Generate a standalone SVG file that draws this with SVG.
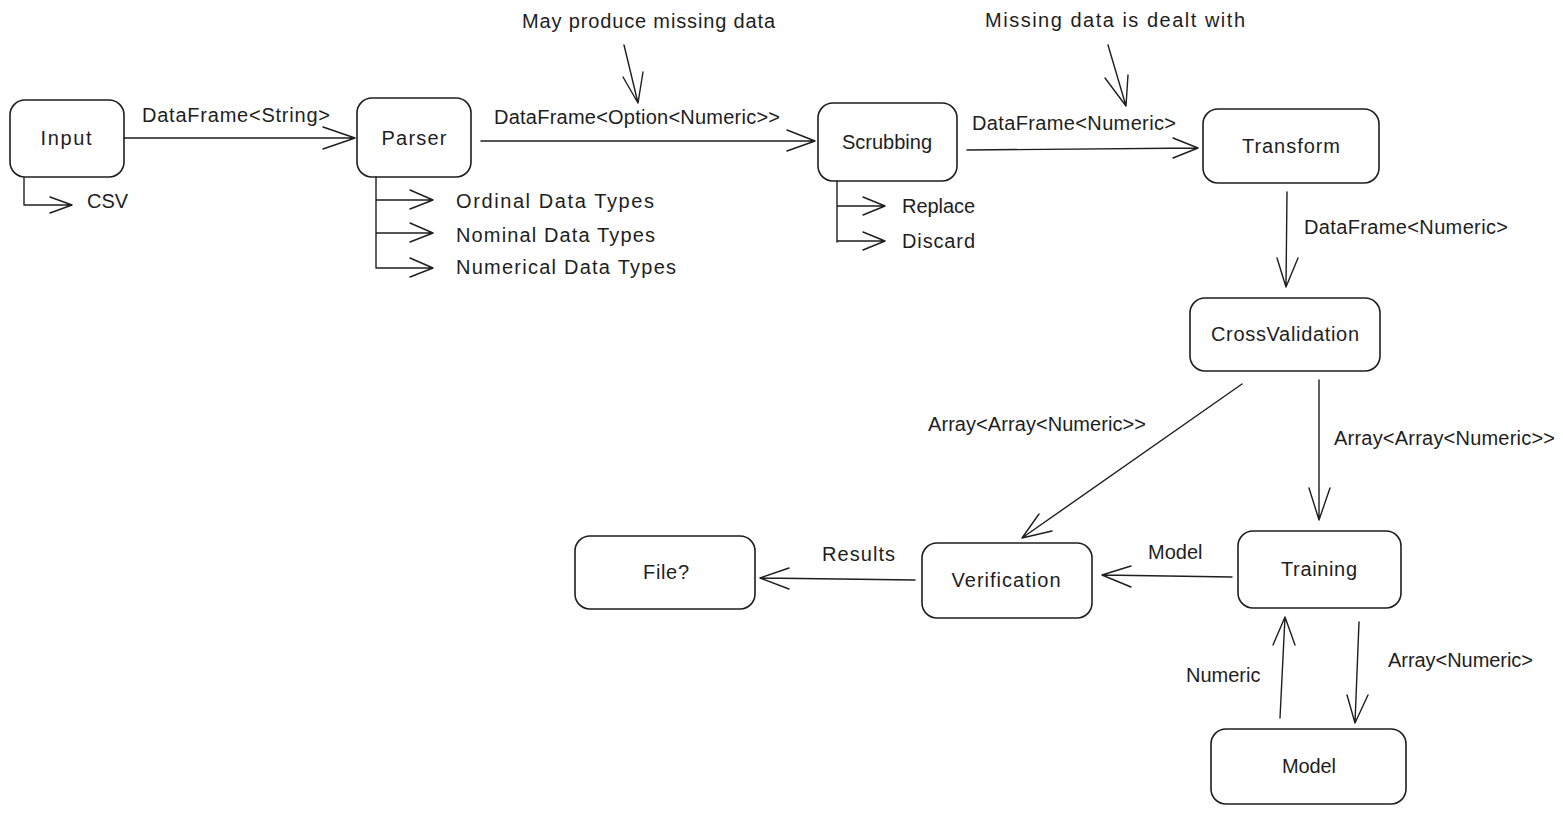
<svg xmlns="http://www.w3.org/2000/svg" width="1563" height="814" viewBox="0 0 1563 814">
  <style>
    .box { fill: #ffffff; stroke: #1e1e1e; stroke-width: 1.6; }
    .lbl { font-family: "Liberation Sans", Arial, sans-serif; font-size: 20px; fill: #1e1e1e; }
    .mid { text-anchor: middle; }
    .wire { fill: none; stroke: #1e1e1e; stroke-width: 1.4; stroke-linecap: round; stroke-linejoin: round; }
  </style>
  <rect width="1563" height="814" fill="#ffffff"/>

  <!-- nodes -->
  <g id="node-input">
    <rect class="box" x="10" y="100" width="114" height="77" rx="15"/>
    <text class="lbl mid" x="66" y="145" textLength="51">Input</text>
  </g>
  <g id="node-parser">
    <rect class="box" x="357" y="98" width="114" height="79" rx="15"/>
    <text class="lbl mid" x="414" y="145" textLength="65">Parser</text>
  </g>
  <g id="node-scrubbing">
    <rect class="box" x="818" y="103" width="139" height="78" rx="15"/>
    <text class="lbl mid" x="887" y="149">Scrubbing</text>
  </g>
  <g id="node-transform">
    <rect class="box" x="1203" y="109" width="176" height="74" rx="15"/>
    <text class="lbl mid" x="1291" y="153" textLength="98">Transform</text>
  </g>
  <g id="node-crossvalidation">
    <rect class="box" x="1190" y="298" width="190" height="73" rx="15"/>
    <text class="lbl mid" x="1285" y="341" textLength="148">CrossValidation</text>
  </g>
  <g id="node-training">
    <rect class="box" x="1238" y="531" width="163" height="77" rx="15"/>
    <text class="lbl mid" x="1319" y="576" textLength="76">Training</text>
  </g>
  <g id="node-verification">
    <rect class="box" x="922" y="543" width="170" height="75" rx="15"/>
    <text class="lbl mid" x="1006" y="587" textLength="109">Verification</text>
  </g>
  <g id="node-file">
    <rect class="box" x="575" y="536" width="180" height="73" rx="15"/>
    <text class="lbl mid" x="666" y="579" textLength="46">File?</text>
  </g>
  <g id="node-model">
    <rect class="box" x="1211" y="729" width="195" height="75" rx="15"/>
    <text class="lbl mid" x="1309" y="773" textLength="54">Model</text>
  </g>

  <!-- connectors -->
  <g id="connectors">
    <!-- Input -> Parser -->
    <path class="wire" d="M124 138 L355 138 M323 127 L355 138 L323 149"/>
    <!-- Input -> CSV -->
    <path class="wire" d="M24 178 L24 205 L72 205 M50 197 L72 205 L50 213"/>
    <!-- Parser -> data type branches -->
    <path class="wire" d="M376 177 L376 268 M376 200 L433 200 M410 190 L433 200 L410 209 M376 233 L433 233 M410 223 L433 233 L410 242 M376 268 L433 268 M410 258 L433 268 L410 277"/>
    <!-- Parser -> Scrubbing -->
    <path class="wire" d="M481 141 L815 141 M787 130 L815 141 L787 151"/>
    <!-- note -> Parser/Scrubbing edge -->
    <path class="wire" d="M624 45 L638 103 M623 77 L638 103 L643 72"/>
    <!-- Scrubbing -> Replace / Discard -->
    <path class="wire" d="M837 181 L837 242 M837 206 L885 206 M863 197 L885 206 L863 215 M837 241 L885 241 M863 232 L885 241 L863 250"/>
    <!-- Scrubbing -> Transform -->
    <path class="wire" d="M967 150 L1198 148 M1173 138 L1198 148 L1173 158"/>
    <!-- note -> Scrubbing/Transform edge -->
    <path class="wire" d="M1108 45 L1126 106 M1105 78 L1126 106 L1128 75"/>
    <!-- Transform -> CrossValidation -->
    <path class="wire" d="M1287 192 L1286 287 M1277 258 L1286 287 L1298 258"/>
    <!-- CrossValidation -> Verification -->
    <path class="wire" d="M1242 384 L1022 538 M1039 514 L1022 538 L1052 531"/>
    <!-- CrossValidation -> Training -->
    <path class="wire" d="M1319 380 L1319 520 M1309 488 L1319 520 L1330 488"/>
    <!-- Training -> Verification -->
    <path class="wire" d="M1232 577 L1102 575 M1131 566 L1102 575 L1131 587"/>
    <!-- Verification -> File? -->
    <path class="wire" d="M915 580 L760 578 M789 568 L760 578 L789 589"/>
    <!-- Model -> Training -->
    <path class="wire" d="M1280 718 L1285 617 M1273 645 L1285 617 L1295 645"/>
    <!-- Training -> Model -->
    <path class="wire" d="M1359 622 L1355 723 M1347 695 L1355 723 L1368 695"/>
  </g>

  <!-- connector labels and notes -->
  <g id="labels">
    <text class="lbl" x="142" y="122" textLength="188">DataFrame&lt;String&gt;</text>
    <text class="lbl" x="87" y="208">CSV</text>
    <text class="lbl" x="456" y="208" textLength="198">Ordinal Data Types</text>
    <text class="lbl" x="456" y="242" textLength="199">Nominal Data Types</text>
    <text class="lbl" x="456" y="274" textLength="220">Numerical Data Types</text>
    <text class="lbl" x="494" y="124" textLength="286">DataFrame&lt;Option&lt;Numeric&gt;&gt;</text>
    <text class="lbl" x="522" y="28" textLength="253">May produce missing data</text>
    <text class="lbl" x="902" y="213" textLength="73">Replace</text>
    <text class="lbl" x="902" y="248" textLength="73">Discard</text>
    <text class="lbl" x="972" y="130" textLength="204">DataFrame&lt;Numeric&gt;</text>
    <text class="lbl" x="985" y="27" textLength="260">Missing data is dealt with</text>
    <text class="lbl" x="1304" y="234" textLength="204">DataFrame&lt;Numeric&gt;</text>
    <text class="lbl" x="928" y="431" textLength="218">Array&lt;Array&lt;Numeric&gt;&gt;</text>
    <text class="lbl" x="1334" y="445" textLength="221">Array&lt;Array&lt;Numeric&gt;&gt;</text>
    <text class="lbl" x="1148" y="559">Model</text>
    <text class="lbl" x="822" y="561" textLength="73">Results</text>
    <text class="lbl" x="1186" y="682">Numeric</text>
    <text class="lbl" x="1388" y="667" textLength="145">Array&lt;Numeric&gt;</text>
  </g>
</svg>
